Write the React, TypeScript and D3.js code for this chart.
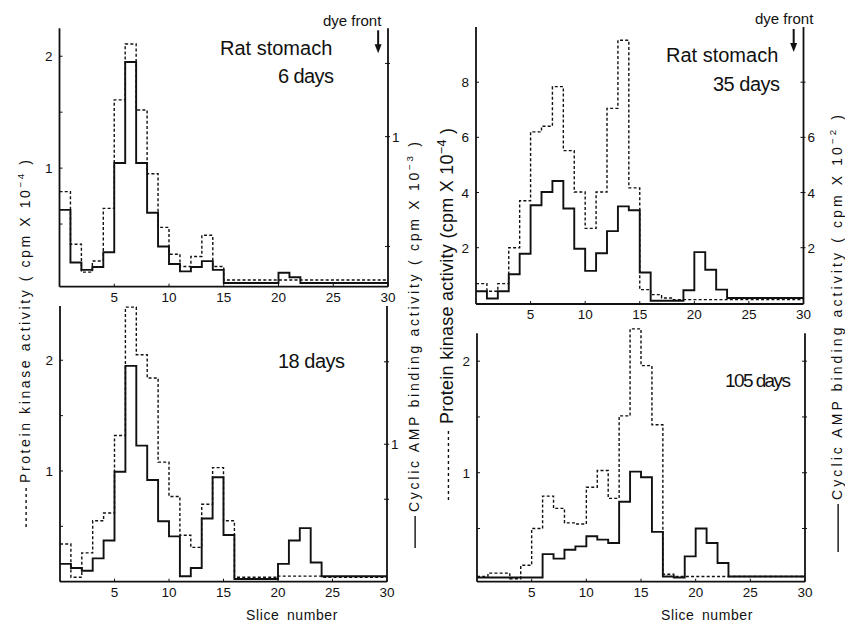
import * as d3 from "d3";
import React from "react";

// slice bins: value i is drawn over [i, i+1] on the slice axis
const xTicks = [5, 10, 15, 20, 25, 30];
const dyeFrontSlice = 29.1;

// 6 days
const kinase6 = [0.79, 0.32, 0.07, 0.17, 0.64, 1.61, 2.11, 1.52, 0.95, 0.47, 0.23, 0.12, 0.21, 0.4, 0.12, 0, 0, 0, 0, 0, 0, 0, 0, 0, 0, 0, 0, 0, 0, 0];
const camp6 = [0.5, 0.14, 0.09, 0.11, 0.21, 0.82, 1.51, 0.82, 0.48, 0.25, 0.13, 0.08, 0.11, 0.15, 0.09, 0, 0, 0, 0, 0, 0.07, 0.04, 0, 0, 0, 0, 0, 0, 0, 0];

// 18 days
const kinase18 = [0.34, 0.04, 0.26, 0.55, 0.62, 1.32, 2.48, 2.05, 1.84, 1.08, 0.77, 0.42, 0.31, 0.7, 1.03, 0.55, 0.04, 0.04, 0.04, 0.04, 0.05, 0.05, 0.05, 0.05, 0.04, 0.04, 0.04, 0.04, 0.04, 0.04];
const camp18 = [0.13, 0.1, 0.08, 0.17, 0.3, 0.8, 1.57, 0.99, 0.74, 0.44, 0.33, 0.04, 0.1, 0.46, 0.76, 0.34, 0.02, 0.02, 0.02, 0.02, 0.13, 0.3, 0.39, 0.14, 0.04, 0.04, 0.04, 0.04, 0.04, 0.04];

// 35 days
const kinase35 = [0.7, 0.42, 0.7, 2.0, 3.7, 6.2, 6.4, 7.84, 5.52, 4.02, 2.7, 4.02, 7.05, 9.52, 4.17, 0.48, 0.3, 0.18, 0.12, 0.12, 0.12, 0.12, 0.12, 0.12, 0.12, 0.12, 0.12, 0.12, 0.12, 0.12];
const camp35 = [0.42, 0.16, 0.42, 1.04, 1.78, 3.54, 4.02, 4.42, 3.42, 1.96, 1.16, 1.8, 2.6, 3.5, 3.36, 1.1, 0.08, 0.08, 0.08, 0.46, 1.84, 1.2, 0.48, 0.18, 0.18, 0.18, 0.18, 0.18, 0.18, 0.18];

// 105 days
const kinase105 = [0.07, 0.1, 0.1, 0.05, 0.17, 0.5, 0.79, 0.68, 0.55, 0.54, 0.87, 1.02, 0.77, 1.51, 2.29, 1.96, 1.43, 0.09, 0.07, 0.07, 0.07, 0.07, 0.07, 0.07, 0.07, 0.07, 0.07, 0.07, 0.07, 0.07];
const camp105 = [0.06, 0.06, 0.06, 0.06, 0.06, 0.06, 0.27, 0.23, 0.31, 0.34, 0.43, 0.4, 0.37, 0.74, 1.01, 0.96, 0.47, 0.07, 0.06, 0.25, 0.5, 0.37, 0.19, 0.07, 0.07, 0.07, 0.07, 0.07, 0.07, 0.07];

const FONT = "'Liberation Sans', Arial, sans-serif";

const panels = [
  {
    kinase: kinase6, camp: camp6, days: "6 days", title: true,
    xRange: [59.5, 388], yRange: [286.7, 28.3],
    left: [-0.06, 2.25], right: [-0.025, 1.74],
    leftTicks: [0.5, 1, 1.5, 2], leftLabels: [1, 2],
    rightTicks: [0.25, 1, 1.5], rightLabels: [1],
    dye: [323, 26], rat: [220, 55], daysPos: [278, 83], daysLen: 56, daysSize: 20,
  },
  {
    kinase: kinase18, camp: camp18, days: "18 days", title: false,
    xRange: [60, 387], yRange: [581.7, 306],
    left: [0, 2.49], right: [0, 2.006],
    leftTicks: [0.5, 1, 1.5, 2], leftLabels: [1, 2],
    rightTicks: [0.6, 1, 1.6], rightLabels: [1],
    daysPos: [278, 368], daysLen: 67, daysSize: 20, slice: [292, 620],
  },
  {
    kinase: kinase35, camp: camp35, days: "35 days", title: true,
    xRange: [476, 803.5], yRange: [304, 27],
    left: [-0.04, 10], right: [-0.04, 10],
    leftTicks: [2, 4, 6, 8], leftLabels: [2, 4, 6, 8],
    rightTicks: [2, 4, 6, 8], rightLabels: [2, 4, 6],
    dye: [755, 24], rat: [666, 62], daysPos: [713, 91], daysLen: 67, daysSize: 20,
  },
  {
    kinase: kinase105, camp: camp105, days: "105 days", title: false,
    xRange: [477, 805], yRange: [581.7, 333.3],
    left: [0.023, 2.25], right: [0.023, 2.25],
    leftTicks: [0.5, 1, 1.5, 2], leftLabels: [1, 2],
    rightTicks: [0.5, 1, 1.5, 2], rightLabels: [],
    daysPos: [725, 387], daysLen: 66, daysSize: 19, slice: [707, 620],
  },
];

function Panel({ p }: { p: any }) {
  const x = d3.scaleLinear().domain([0, 30]).range(p.xRange);
  const yL = d3.scaleLinear().domain(p.left).range(p.yRange);
  const yR = d3.scaleLinear().domain(p.right).range(p.yRange);
  const [x0, x1] = p.xRange;
  const [yB, yT] = p.yRange;

  const step = (y: d3.ScaleLinear<number, number>) =>
    d3
      .line<number>()
      .x((_, i) => x(i))
      .y((v) => y(v))
      .curve(d3.curveStepAfter);

  const kin = [...p.kinase, p.kinase[p.kinase.length - 1]];
  const cmp = [...p.camp, p.camp[p.camp.length - 1]];
  const xd = x(dyeFrontSlice);

  return (
    <g>
      <path d={step(yL)(kin) || ""} fill="none" stroke="#111" strokeWidth={1.4} strokeDasharray="3,2.2" />
      <path d={step(yR)(cmp) || ""} fill="none" stroke="#111" strokeWidth={1.9} />

      {/* axes */}
      <line x1={x0} x2={x0} y1={yT} y2={yB} stroke="#111" strokeWidth={1.8} />
      <line x1={x1} x2={x1} y1={yT} y2={yB} stroke="#111" strokeWidth={1.8} />
      <line x1={x0} x2={x1} y1={yB} y2={yB} stroke="#111" strokeWidth={1.8} />

      {xTicks.map((t) => (
        <g key={"x" + t}>
          <line x1={x(t)} x2={x(t)} y1={yB} y2={yB - 3} stroke="#111" strokeWidth={1} />
          <text x={x(t)} y={yB + 15} fontSize={13.5} textAnchor="middle">{t}</text>
        </g>
      ))}

      {p.leftTicks.map((t: number) => (
        <line key={"l" + t} x1={x0} x2={x0 + 3} y1={yL(t)} y2={yL(t)} stroke="#111" strokeWidth={1} />
      ))}
      {p.leftLabels.map((t: number) => (
        <text key={"ll" + t} x={x0 - 7} y={yL(t) + 5} fontSize={13.5} textAnchor="end">{t}</text>
      ))}
      {p.rightTicks.map((t: number) => (
        <line key={"r" + t} x1={x1 - 3} x2={x1 + 2} y1={yR(t)} y2={yR(t)} stroke="#111" strokeWidth={1} />
      ))}
      {p.rightLabels.map((t: number) => (
        <text key={"rl" + t} x={x1 + 4} y={yR(t) + 5} fontSize={13.5}>{t}</text>
      ))}

      {p.title && (
        <g>
          <text x={p.dye[0]} y={p.dye[1]} fontSize={15}>dye front</text>
          <line x1={xd} x2={xd} y1={yT + 2} y2={yT + 18} stroke="#111" strokeWidth={2} />
          <path d={`M${xd - 3.5},${yT + 16} L${xd + 3.5},${yT + 16} L${xd},${yT + 25} Z`} fill="#111" />
          <text x={p.rat[0]} y={p.rat[1]} fontSize={20}>Rat stomach</text>
        </g>
      )}
      <text
        x={p.daysPos[0]}
        y={p.daysPos[1]}
        fontSize={p.daysSize}
        textLength={p.daysLen}
        lengthAdjust="spacing"
      >
        {p.days}
      </text>
      {p.slice && (
        <text x={p.slice[0]} y={p.slice[1]} fontSize={14} textAnchor="middle" letterSpacing={0.6} wordSpacing={3}>
          Slice number
        </text>
      )}
    </g>
  );
}

function YTitle({
  x, y0, legend, dashed, text, exp, size, len,
}: {
  x: number; y0: number; legend: number; dashed: boolean; text: string; exp: string; size: number; len: number;
}) {
  return (
    <g transform={`translate(${x},${y0}) rotate(-90)`}>
      <line
        x1={0}
        x2={legend}
        y1={size * 0.08}
        y2={size * 0.08}
        stroke="#111"
        strokeWidth={1.4}
        strokeDasharray={dashed ? "3,3" : undefined}
      />
      <text x={legend + 4} y={size * 0.36} fontSize={size} textLength={len} lengthAdjust="spacing">
        {text}
        <tspan fontSize={size * 0.7} dy={-size * 0.42}>{exp}</tspan>
        <tspan dy={size * 0.42}> )</tspan>
      </text>
    </g>
  );
}

export default function App() {
  return (
    <svg
      width={845}
      height={624}
      style={{ position: "absolute", left: 0, top: 0, background: "#fff" }}
      fontFamily={FONT}
      fill="#111"
    >
      {panels.map((p, i) => (
        <Panel key={i} p={p} />
      ))}
      <YTitle x={25} y0={527} legend={40} dashed text="Protein  kinase  activity ( cpm X 10" exp="−4" size={14} len={323} />
      <YTitle x={414} y0={548} legend={32} dashed={false} text="Cyclic AMP binding activity  ( cpm X 10" exp="−3" size={14} len={370} />
      <YTitle x={447} y0={500} legend={72} dashed text="Protein  kinase  activity (cpm X 10" exp="−4" size={18} len={296} />
      <YTitle x={837} y0={552} legend={48} dashed={false} text="Cyclic AMP binding activity  ( cpm X 10" exp="−2" size={14} len={385} />
    </svg>
  );
}
